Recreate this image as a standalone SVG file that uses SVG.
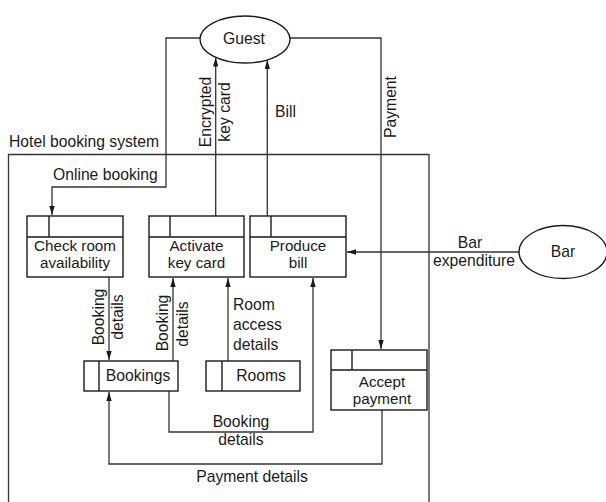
<svg xmlns="http://www.w3.org/2000/svg" width="606" height="502" viewBox="0 0 606 502">
<defs>
<style>
.t{font-family:"Liberation Sans",Arial,sans-serif;font-size:15.7px;fill:#1a1a1a}
.b{font-size:15.2px}
.m{text-anchor:middle}
.box{fill:#fff;stroke:#1a1a1a;stroke-width:1.4}
.ln{fill:none;stroke:#1a1a1a;stroke-width:1.4}
.c{fill:none;stroke:#333;stroke-width:1.3}
</style>
<marker id="ah" viewBox="0 0 10 6" markerWidth="9" markerHeight="5.4" refX="10" refY="3" orient="auto" markerUnits="userSpaceOnUse">
<path d="M0,0 L10,3 L0,6 z" fill="#1a1a1a"/>
</marker>
</defs>
<rect width="606" height="502" fill="#fff"/>

<g id="boundary">
<path class="c" d="M8.5,502 V154.5 H429 V502"/>
<text class="t" x="9" y="147">Hotel booking system</text>
</g>

<g id="connectors">
<path class="c" d="M200,38 H166 V187 H52 V215" marker-end="url(#ah)"/>
<text class="t" x="53" y="180">Online booking</text>
<path class="c" d="M215.7,216 V57.5" marker-end="url(#ah)"/>
<text class="t m" transform="translate(211,112) rotate(-90)">Encrypted</text>
<text class="t m" transform="translate(230,112) rotate(-90)">key card</text>
<path class="c" d="M267.3,216 V60" marker-end="url(#ah)"/>
<text class="t" x="275" y="117">Bill</text>
<path class="c" d="M290,38 H381 V349" marker-end="url(#ah)"/>
<text class="t m" transform="translate(396,107) rotate(-90)">Payment</text>
<path class="c" d="M519,252 H347" marker-end="url(#ah)"/>
<text class="t m" x="470" y="248">Bar</text>
<text class="t m" x="474" y="266">expenditure</text>
<path class="c" d="M109,277 V360" marker-end="url(#ah)"/>
<text class="t m" transform="translate(104,317) rotate(-90)">Booking</text>
<text class="t m" transform="translate(123,317) rotate(-90)">details</text>
<path class="c" d="M173,361 V278" marker-end="url(#ah)"/>
<text class="t m" transform="translate(168,323) rotate(-90)">Booking</text>
<text class="t m" transform="translate(188,324) rotate(-90)">details</text>
<path class="c" d="M228,361 V278" marker-end="url(#ah)"/>
<text class="t" x="233" y="310">Room</text>
<text class="t" x="233" y="330">access</text>
<text class="t" x="233" y="350">details</text>
<path class="c" d="M169,391 V432 H313 V278" marker-end="url(#ah)"/>
<text class="t m" x="241" y="427">Booking</text>
<text class="t m" x="241" y="445">details</text>
<path class="c" d="M382,410 V464 H109 V392" marker-end="url(#ah)"/>
<text class="t m" x="252" y="482">Payment details</text>
</g>

<g id="guest">
<ellipse class="box" cx="245" cy="39.5" rx="45" ry="23.5"/>
<text class="t m" x="244" y="44">Guest</text>
</g>

<g id="bar">
<ellipse class="box" cx="563" cy="252" rx="44" ry="26.5"/>
<text class="t m" x="563" y="257">Bar</text>
</g>

<g id="check-room">
<rect class="box" x="27" y="216" width="96" height="61"/>
<path class="ln" d="M27,237 H123 M49,216 V237"/>
<text class="t b m" x="75" y="251">Check room</text>
<text class="t b m" x="75" y="268">availability</text>
</g>

<g id="activate">
<rect class="box" x="149" y="216" width="95" height="61"/>
<path class="ln" d="M149,237 H244 M170,216 V237"/>
<text class="t b m" x="196.5" y="251">Activate</text>
<text class="t b m" x="196.5" y="268">key card</text>
</g>

<g id="produce-bill">
<rect class="box" x="250" y="216" width="96" height="61"/>
<path class="ln" d="M250,237 H346 M271,216 V237"/>
<text class="t b m" x="298" y="251">Produce</text>
<text class="t b m" x="298" y="268">bill</text>
</g>

<g id="accept-payment">
<rect class="box" x="331" y="350" width="96" height="60"/>
<path class="ln" d="M331,370 H427 M352,350 V370"/>
<text class="t b m" x="382" y="387">Accept</text>
<text class="t b m" x="382" y="404">payment</text>
</g>

<g id="bookings">
<rect class="box" x="84" y="361" width="94" height="30"/>
<path class="ln" d="M99,361 V391"/>
<text class="t m" x="138" y="381">Bookings</text>
</g>

<g id="rooms">
<rect class="box" x="206" y="361" width="94" height="30"/>
<path class="ln" d="M222,361 V391"/>
<text class="t m" x="261" y="381">Rooms</text>
</g>
</svg>
